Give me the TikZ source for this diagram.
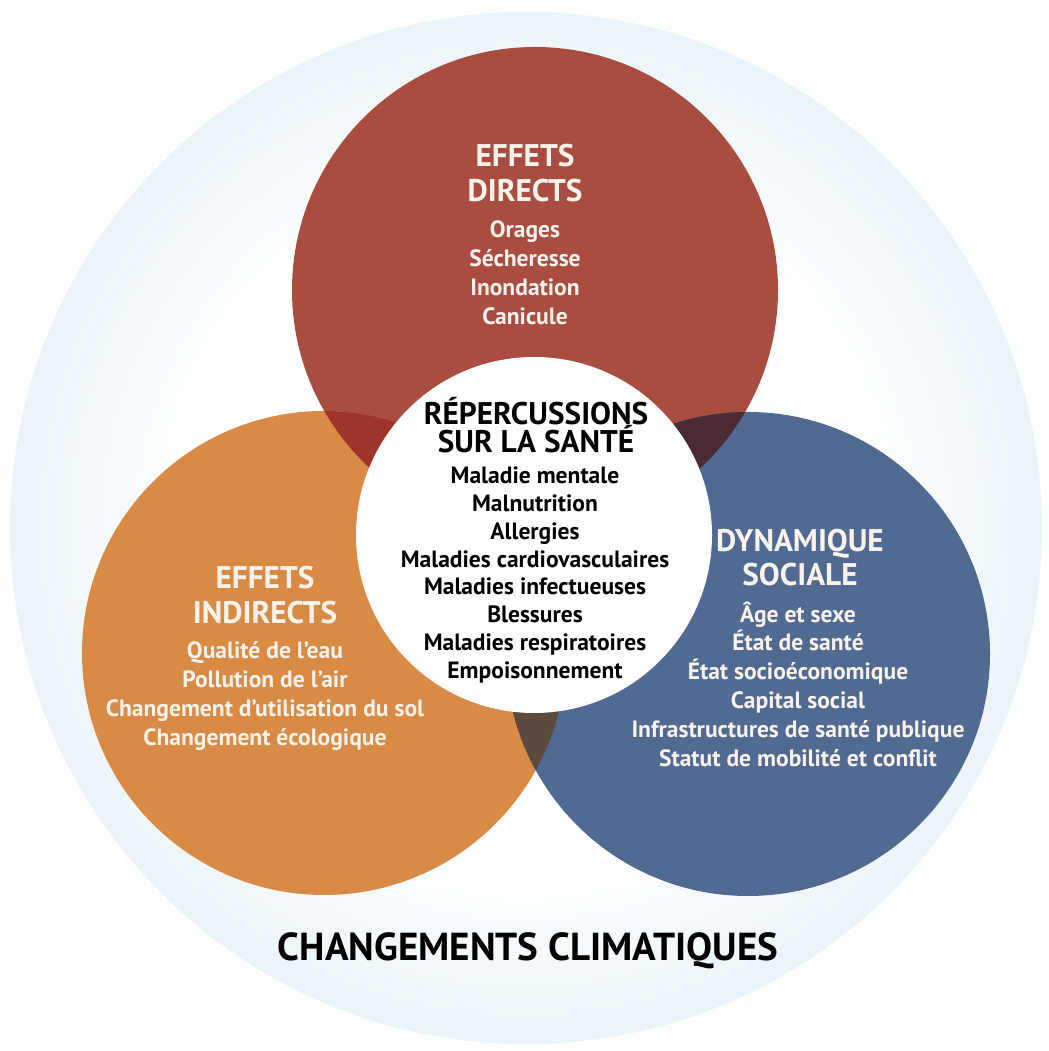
\documentclass[tikz,border=0pt]{standalone}
\usepackage{fontspec}
\setmainfont{PT Sans}
\definecolor{glowblue}{RGB}{203,227,241}
\definecolor{directred}{RGB}{169,77,65}
\definecolor{indirectorange}{RGB}{217,139,70}
\definecolor{socialblue}{RGB}{80,106,146}
\definecolor{redorange}{RGB}{160,52,43}
\definecolor{redblue}{RGB}{74,43,52}
\definecolor{orangeblue}{RGB}{92,75,60}
\definecolor{lighttext}{RGB}{250,243,236}
\pgfdeclareradialshading{glowshade}{\pgfpoint{0cm}{0cm}}{color(0bp)=(white); color(16bp)=(white); color(25bp)=(glowblue!40); color(32bp)=(glowblue!90); color(34.6bp)=(glowblue); color(35.4bp)=(glowblue!60); color(50bp)=(glowblue!60)}
\begin{document}
\begin{tikzpicture}[
    heading/.style={align=center, inner sep=0pt, font=\bfseries\fontsize{8.9}{9.9}\selectfont, text=lighttext},
    items/.style={align=center, inner sep=0pt, font=\bfseries\fontsize{6.7}{8.2}\selectfont, text=lighttext}
  ]
    \useasboundingbox (0,0) rectangle (10.49,10.51);
    % Background glow
    \shade[shading=glowshade] (5.26,5.23) circle (5.16);

    % Three circles
    \fill[directred] (5.35,7.61) circle (2.43);
    \fill[indirectorange] (3.24,3.98) circle (2.42);
    \fill[socialblue] (7.48,3.97) circle (2.42);

    % Overlaps
    \begin{scope}
        \clip (5.35,7.61) circle (2.43);
        \fill[redorange] (3.24,3.98) circle (2.42);
        \fill[redblue] (7.48,3.97) circle (2.42);
    \end{scope}
    \begin{scope}
        \clip (3.24,3.98) circle (2.42);
        \fill[orangeblue] (7.48,3.97) circle (2.42);
    \end{scope}

    % Centre
    \fill[white] (5.34,5.16) circle (1.78);

    % Direct effects
    \node[heading] (directhead) at (5.25,8.78) {EFFETS\\DIRECTS};
    \node[items] (directlist) at (5.25,7.78) {Orages\\Sécheresse\\Inondation\\Canicule};

    % Indirect effects
    \node[heading] (indirecthead) at (2.65,4.56) {EFFETS\\INDIRECTS};
    \node[items] (indirectlist) at (2.65,3.55) {Qualité de l’eau\\Pollution de l’air\\Changement d’utilisation du sol\\Changement écologique};

    % Social dynamics
    \node[heading] (socialhead) at (8.0,4.935) {DYNAMIQUE\\SOCIALE};
    \node[items] (sociallist) at (7.98,3.67) {Âge et sexe\\État de santé\\État socioéconomique\\Capital social\\Infrastructures de santé publique\\Statut de mobilité et conflit};

    % Health impacts
    \node[heading, text=black, font=\bfseries\fontsize{8.9}{7.7}\selectfont] (healthhead) at (5.36,6.26) {RÉPERCUSSIONS\\[-0.9pt]SUR LA SANTÉ};
    \node[items, text=black, font=\bfseries\fontsize{6.7}{7.95}\selectfont] (healthlist) at (5.35,4.76) {Maladie mentale\\Malnutrition\\Allergies\\Maladies cardiovasculaires\\Maladies infectueuses\\Blessures\\Maladies respiratoires\\Empoisonnement};

    % Climate change
    \node[font=\bfseries\fontsize{11.1}{13}\selectfont, text=black] (climate) at (5.28,1.0) {CHANGEMENTS CLIMATIQUES};
\end{tikzpicture}
\end{document}
